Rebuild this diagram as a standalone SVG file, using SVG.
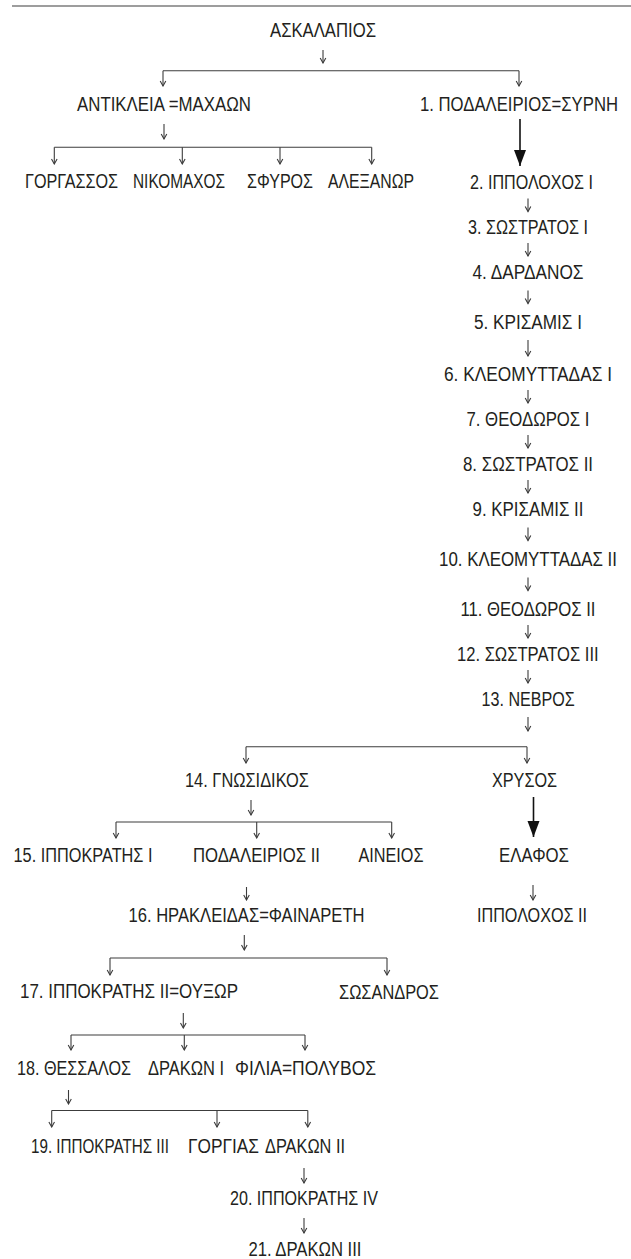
<svg xmlns="http://www.w3.org/2000/svg" width="631" height="1259" viewBox="0 0 631 1259">
<defs>
<style>
text{font-family:"Liberation Sans",Arial,sans-serif;font-size:16.5px;fill:#231f20}
.ln{fill:none;stroke:#3c3c3c;stroke-width:1.1}
.ar{fill:none;stroke:#3c3c3c;stroke-width:1.1;marker-end:url(#ah)}
.bd{fill:none;stroke:#111;stroke-width:1.6;marker-end:url(#bh)}
</style>
<marker id="ah" markerUnits="userSpaceOnUse" viewBox="-6 -4 7 8" markerWidth="7" markerHeight="8" refX="0" refY="0" orient="auto">
<path d="M-5,-2.8 L0,0 L-5,2.8" fill="none" stroke="#3c3c3c" stroke-width="1.1"/>
</marker>
<marker id="bh" markerUnits="userSpaceOnUse" viewBox="-16 -7 17 14" markerWidth="17" markerHeight="14" refX="0" refY="0" orient="auto">
<path d="M-16,-6 L0,0 L-16,6 Z" fill="#111"/>
</marker>
</defs>
<rect width="631" height="1259" fill="#fff"/>
<g id="rule"><path class="ln" d="M12,6 H631" stroke-width="1.3"/></g>
<g id="connectors">
<path class="ar" d="M323,50 V63"/>
<path class="ln" d="M163,70.7 H519"/>
<path class="ar" d="M163,70.7 V86"/>
<path class="ar" d="M519,70.7 V86"/>
<path class="ar" d="M164,124 V139"/>
<path class="ln" d="M54.3,147.3 H371.7"/>
<path class="ar" d="M54.3,147.3 V164"/>
<path class="ar" d="M182.3,147.3 V164"/>
<path class="ar" d="M280,147.3 V164"/>
<path class="ar" d="M371.7,147.3 V164"/>
<path class="bd" d="M520,119 V166"/>
<path class="ar" d="M528,198.5 V211.5"/>
<path class="ar" d="M528,243 V256"/>
<path class="ar" d="M528,290.5 V303.5"/>
<path class="ar" d="M528,340 V356"/>
<path class="ar" d="M528,390 V403"/>
<path class="ar" d="M528,435 V448"/>
<path class="ar" d="M528,480 V493"/>
<path class="ar" d="M528,527.5 V540.5"/>
<path class="ar" d="M528,577.5 V590.5"/>
<path class="ar" d="M528,625 V638"/>
<path class="ar" d="M528,670 V683"/>
<path class="ar" d="M528,717 V731"/>
<path class="ln" d="M246,746.7 H527"/>
<path class="ar" d="M246,746.7 V763"/>
<path class="ar" d="M527,746.7 V763"/>
<path class="ar" d="M251,800 V815"/>
<path class="ln" d="M116,822 H391.7"/>
<path class="ar" d="M116,822 V838"/>
<path class="ar" d="M256.7,822 V838"/>
<path class="ar" d="M391.7,822 V838"/>
<path class="bd" d="M533.5,797 V837"/>
<path class="ar" d="M533,885 V900"/>
<path class="ar" d="M246.5,887 V900"/>
<path class="ar" d="M244.3,935 V950"/>
<path class="ln" d="M110,958 H387"/>
<path class="ar" d="M110,958 V975"/>
<path class="ar" d="M387,958 V975"/>
<path class="ar" d="M183.3,1013 V1028"/>
<path class="ln" d="M71,1035 H305"/>
<path class="ar" d="M71,1035 V1050"/>
<path class="ar" d="M184.3,1035 V1050"/>
<path class="ar" d="M305,1035 V1050"/>
<path class="ar" d="M68.5,1090 V1104"/>
<path class="ln" d="M51.7,1110.5 H307.8"/>
<path class="ar" d="M51.7,1110.5 V1127"/>
<path class="ar" d="M217,1110.5 V1127"/>
<path class="ar" d="M307.8,1110.5 V1127"/>
<path class="ar" d="M304,1168 V1183"/>
<path class="ar" d="M304,1218 V1233"/>
</g>
<g id="n-askalapios"><text transform="translate(270,37) scale(1,1.17)" textLength="106" lengthAdjust="spacingAndGlyphs">ΑΣΚΑΛΑΠΙΟΣ</text></g>
<g id="n-antikleia"><text transform="translate(77,111) scale(1,1.17)" textLength="174" lengthAdjust="spacingAndGlyphs">ΑΝΤΙΚΛΕΙΑ =ΜΑΧΑΩΝ</text></g>
<g id="n-podaleirios1"><text transform="translate(420,111) scale(1,1.17)" textLength="198" lengthAdjust="spacingAndGlyphs">1. ΠΟΔΑΛΕΙΡΙΟΣ=ΣΥΡΝΗ</text></g>
<g id="n-gorgassos"><text transform="translate(25,188) scale(1,1.17)" textLength="93" lengthAdjust="spacingAndGlyphs">ΓΟΡΓΑΣΣΟΣ</text></g>
<g id="n-nikomachos"><text transform="translate(133,188) scale(1,1.17)" textLength="92" lengthAdjust="spacingAndGlyphs">ΝΙΚΟΜΑΧΟΣ</text></g>
<g id="n-sfyros"><text transform="translate(247,188) scale(1,1.17)" textLength="66" lengthAdjust="spacingAndGlyphs">ΣΦΥΡΟΣ</text></g>
<g id="n-alexanor"><text transform="translate(328,188) scale(1,1.17)" textLength="86" lengthAdjust="spacingAndGlyphs">ΑΛΕΞΑΝΩΡ</text></g>
<g id="n-2"><text transform="translate(470,189) scale(1,1.17)" textLength="123" lengthAdjust="spacingAndGlyphs">2. ΙΠΠΟΛΟΧΟΣ I</text></g>
<g id="n-3"><text transform="translate(468,234) scale(1,1.17)" textLength="120" lengthAdjust="spacingAndGlyphs">3. ΣΩΣΤΡΑΤΟΣ I</text></g>
<g id="n-4"><text transform="translate(472.5,279) scale(1,1.17)" textLength="111" lengthAdjust="spacingAndGlyphs">4. ΔΑΡΔΑΝΟΣ</text></g>
<g id="n-5"><text transform="translate(474,329) scale(1,1.17)" textLength="108" lengthAdjust="spacingAndGlyphs">5. ΚΡΙΣΑΜΙΣ I</text></g>
<g id="n-6"><text transform="translate(444,381) scale(1,1.17)" textLength="168" lengthAdjust="spacingAndGlyphs">6. ΚΛΕΟΜΥΤΤΑΔΑΣ I</text></g>
<g id="n-7"><text transform="translate(466.5,426) scale(1,1.17)" textLength="123" lengthAdjust="spacingAndGlyphs">7. ΘΕΟΔΩΡΟΣ I</text></g>
<g id="n-8"><text transform="translate(463,471) scale(1,1.17)" textLength="130" lengthAdjust="spacingAndGlyphs">8. ΣΩΣΤΡΑΤΟΣ II</text></g>
<g id="n-9"><text transform="translate(472.5,516) scale(1,1.17)" textLength="111" lengthAdjust="spacingAndGlyphs">9. ΚΡΙΣΑΜΙΣ II</text></g>
<g id="n-10"><text transform="translate(439,566) scale(1,1.17)" textLength="178" lengthAdjust="spacingAndGlyphs">10. ΚΛΕΟΜΥΤΤΑΔΑΣ II</text></g>
<g id="n-11"><text transform="translate(460.5,616) scale(1,1.17)" textLength="135" lengthAdjust="spacingAndGlyphs">11. ΘΕΟΔΩΡΟΣ II</text></g>
<g id="n-12"><text transform="translate(457,661) scale(1,1.17)" textLength="141.6" lengthAdjust="spacingAndGlyphs">12. ΣΩΣΤΡΑΤΟΣ III</text></g>
<g id="n-13"><text transform="translate(481.5,706) scale(1,1.17)" textLength="93.3" lengthAdjust="spacingAndGlyphs">13. ΝΕΒΡΟΣ</text></g>
<g id="n-14"><text transform="translate(185,787) scale(1,1.17)" textLength="124" lengthAdjust="spacingAndGlyphs">14. ΓΝΩΣΙΔΙΚΟΣ</text></g>
<g id="n-chrysos"><text transform="translate(492,787) scale(1,1.17)" textLength="65" lengthAdjust="spacingAndGlyphs">ΧΡΥΣΟΣ</text></g>
<g id="n-15"><text transform="translate(13.5,862) scale(1,1.17)" textLength="139" lengthAdjust="spacingAndGlyphs">15. ΙΠΠΟΚΡΑΤΗΣ I</text></g>
<g id="n-podaleirios2"><text transform="translate(193,862) scale(1,1.17)" textLength="127" lengthAdjust="spacingAndGlyphs">ΠΟΔΑΛΕΙΡΙΟΣ II</text></g>
<g id="n-aineios"><text transform="translate(358.5,862) scale(1,1.17)" textLength="65" lengthAdjust="spacingAndGlyphs">ΑΙΝΕΙΟΣ</text></g>
<g id="n-elafos"><text transform="translate(499,862) scale(1,1.17)" textLength="70" lengthAdjust="spacingAndGlyphs">ΕΛΑΦΟΣ</text></g>
<g id="n-16"><text transform="translate(128.5,922) scale(1,1.17)" textLength="236" lengthAdjust="spacingAndGlyphs">16. ΗΡΑΚΛΕΙΔΑΣ=ΦΑΙΝΑΡΕΤΗ</text></g>
<g id="n-ippolochos2"><text transform="translate(477,922) scale(1,1.17)" textLength="110" lengthAdjust="spacingAndGlyphs">ΙΠΠΟΛΟΧΟΣ II</text></g>
<g id="n-17"><text transform="translate(20,998) scale(1,1.17)" textLength="218" lengthAdjust="spacingAndGlyphs">17. ΙΠΠΟΚΡΑΤΗΣ II=ΟΥΞΩΡ</text></g>
<g id="n-sosandros"><text transform="translate(339,999) scale(1,1.17)" textLength="100" lengthAdjust="spacingAndGlyphs">ΣΩΣΑΝΔΡΟΣ</text></g>
<g id="n-18"><text transform="translate(17,1075) scale(1,1.17)" textLength="114" lengthAdjust="spacingAndGlyphs">18. ΘΕΣΣΑΛΟΣ</text></g>
<g id="n-drakon1"><text transform="translate(148,1075) scale(1,1.17)" textLength="76" lengthAdjust="spacingAndGlyphs">ΔΡΑΚΩΝ I</text></g>
<g id="n-filia"><text transform="translate(235,1075) scale(1,1.17)" textLength="141" lengthAdjust="spacingAndGlyphs">ΦΙΛΙΑ=ΠΟΛΥΒΟΣ</text></g>
<g id="n-19"><text transform="translate(31,1153) scale(1,1.17)" textLength="138" lengthAdjust="spacingAndGlyphs">19. ΙΠΠΟΚΡΑΤΗΣ III</text></g>
<g id="n-gorgias"><text transform="translate(188,1153) scale(1,1.17)" textLength="71" lengthAdjust="spacingAndGlyphs">ΓΟΡΓΙΑΣ</text></g>
<g id="n-drakon2"><text transform="translate(265,1153) scale(1,1.17)" textLength="80" lengthAdjust="spacingAndGlyphs">ΔΡΑΚΩΝ II</text></g>
<g id="n-20"><text transform="translate(230,1205) scale(1,1.17)" textLength="148" lengthAdjust="spacingAndGlyphs">20. ΙΠΠΟΚΡΑΤΗΣ IV</text></g>
<g id="n-21"><text transform="translate(248.5,1256) scale(1,1.17)" textLength="113" lengthAdjust="spacingAndGlyphs">21. ΔΡΑΚΩΝ III</text></g>
</svg>
